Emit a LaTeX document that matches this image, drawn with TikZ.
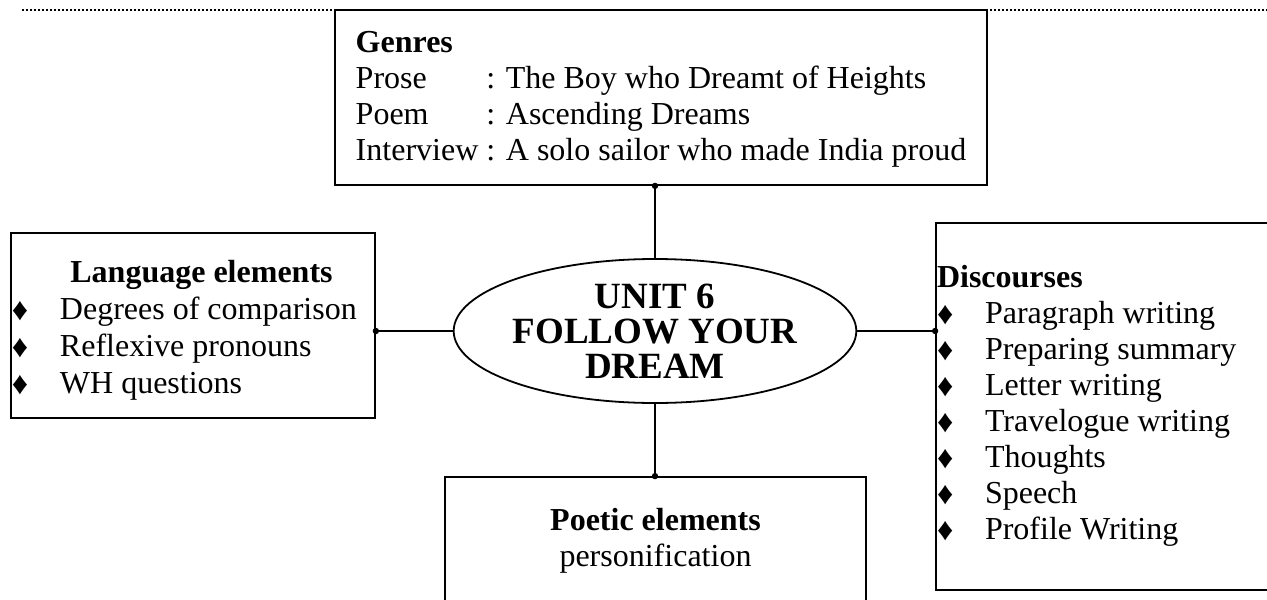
\documentclass[tikz,border=0pt]{standalone}
\usepackage{fontspec}
\usepackage{array}
\setmainfont{Liberation Serif}
\usetikzlibrary{shapes.geometric}
\newcommand{\bodyfont}{\fontsize{32}{36}\selectfont}
\newcommand{\unitfont}{\fontsize{37}{35}\selectfont\bfseries}
\newcommand{\diam}{\raisebox{-1pt}{♦}}
\tikzset{
  box/.style={draw, line width=1.8pt, inner sep=1pt, font=\bodyfont},
  link/.style={line width=1.8pt},
  topic/.style={ellipse, draw, line width=1.8pt, inner sep=0pt, align=center, font=\unitfont},
}

\begin{document}
\begin{tikzpicture}[x=1pt, y=-1pt]
	%%%%% START %%%%%
	\useasboundingbox (0,0) rectangle (1267,600);
	\clip (0,0) rectangle (1267,600);
	
	\draw[line width=1.6pt, dash pattern=on 1.6pt off 2.4pt] (22,10) -- (1267,10);
	
	\node[topic, minimum width=394pt, minimum height=144pt] (unit) at (655,331) {UNIT 6\\FOLLOW YOUR\\DREAM};
	
	\node[box, minimum width=652pt, minimum height=175pt] (genres) at (661,97.5) {%
		\begin{tabular}{@{}l@{ }l@{}}
			\rule{0pt}{29pt}\textbf{Genres} & \\
			Prose & : The Boy who Dreamt of Heights\\
			Poem & : Ascending Dreams\\
			Interview & : A solo sailor who made India proud
		\end{tabular}};
	
	\node[box, minimum height=185pt] (lang) at (193,325.5) {%
		\begin{tabular}{@{}p{48pt}@{}>{\raggedright\arraybackslash}p{314pt}@{}}
			\multicolumn{2}{c}{\rule{0pt}{35pt}\hspace{17pt}\textbf{Language elements}}\\[1pt]
			\diam & Degrees of comparison\\[1pt]
			\diam & Reflexive pronouns\\[1pt]
			\diam & WH questions
		\end{tabular}};
	
	\node[box, minimum height=367pt] (disc) at (1167.5,406.5) {%
		\begin{tabular}{@{}p{48pt}@{}>{\raggedright\arraybackslash}p{413pt}@{}}
			\multicolumn{2}{@{}l}{\textbf{Discourses}}\\
			\diam & Paragraph writing\\
			\diam & Preparing summary\\
			\diam & Letter writing\\
			\diam & Travelogue writing\\
			\diam & Thoughts\\
			\diam & Speech\\
			\diam & Profile Writing
		\end{tabular}};
	
	\node[box, minimum width=421pt, minimum height=128pt, align=center] (poetic) at (655.5,541) {\textbf{Poetic elements}\\personification};
	
	% links from the unit to the boxes
	\draw[link] (unit.north) -- (unit.north |- genres.south);
	\fill (unit.north |- genres.south) circle (3.2);
	\draw[link] (unit.west) -- (unit.west -| lang.east);
	\fill (unit.west -| lang.east) circle (3.2);
	\draw[link] (unit.east) -- (unit.east -| disc.west);
	\fill (unit.east -| disc.west) circle (3.2);
	\draw[link] (unit.south) -- (unit.south |- poetic.north);
	\fill (unit.south |- poetic.north) circle (3.2);
	
	%%%%% END %%%%%
\end{tikzpicture}
\end{document}
